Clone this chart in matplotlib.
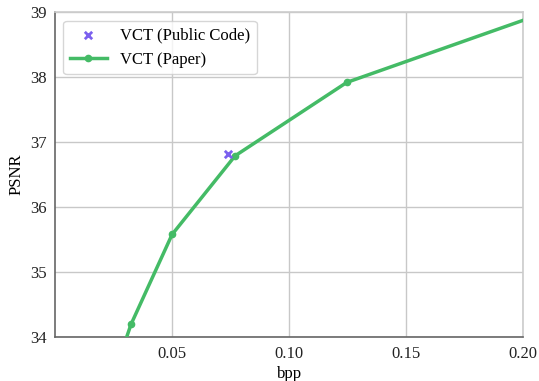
import numpy as np
import matplotlib
matplotlib.use("Agg")
import matplotlib.pyplot as plt

plt.rcParams['font.family'] = ['Liberation Serif', 'DejaVu Serif']

# VCT rate-distortion points (bpp, PSNR)
paper_bpp = [0.022, 0.0325, 0.050, 0.0769, 0.1246, 0.22]
paper_psnr = [33.10, 34.20, 35.58, 36.79, 37.92, 39.13]
public_bpp = [0.0738]
public_psnr = [36.82]

xticks = [0.05, 0.10, 0.15, 0.20]
yticks = [34, 35, 36, 37, 38, 39]

fig, ax = plt.subplots(figsize=(5.39, 3.81), dpi=100)
fig.subplots_adjust(left=0.102, right=0.971, top=0.968, bottom=0.115)

ax.scatter(public_bpp, public_psnr, marker='x', color='#7b60ee', s=28,
           linewidths=2, zorder=4, label='VCT (Public Code)')
ax.plot(paper_bpp, paper_psnr, color='#44bb66', lw=2.5, marker='o',
        markersize=4.5, zorder=3, label='VCT (Paper)')

ax.set_xlim(0, 0.2)
ax.set_ylim(34, 39)
ax.set_xticks(xticks)
ax.set_xticklabels(['%.2f' % v for v in xticks])
ax.set_yticks(yticks)
ax.grid(True, color='#c8c8c8', lw=1)
ax.set_axisbelow(True)
ax.tick_params(length=0, labelsize=12, colors='#222222', pad=6)
for s in ['top', 'right']:
    ax.spines[s].set_color('#cccccc')
    ax.spines[s].set_linewidth(1.2)
for s in ['left', 'bottom']:
    ax.spines[s].set_color('#666666')
    ax.spines[s].set_linewidth(1.2)

ax.set_xlabel('bpp', fontsize=12, labelpad=3)
ax.set_ylabel('PSNR', fontsize=12)
leg = ax.legend(loc='upper left', fontsize=12, frameon=True, handlelength=2.2)
leg.get_frame().set_edgecolor('#cccccc')

plt.savefig("out.png")
